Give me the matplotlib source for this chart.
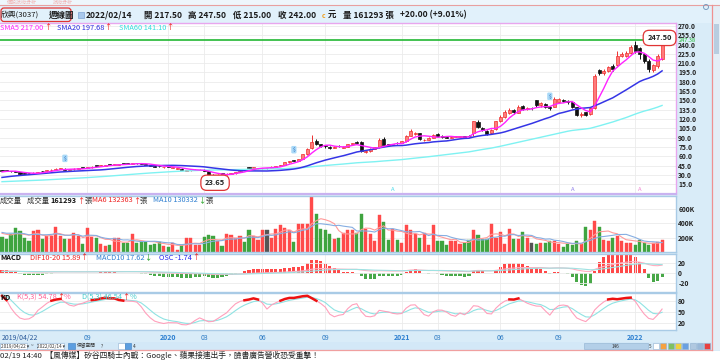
import numpy as np
import pandas as pd
import matplotlib
matplotlib.use("Agg")
import matplotlib.pyplot as plt
from matplotlib.patches import Rectangle, FancyBboxPatch, Circle
from matplotlib.ticker import FormatStrFormatter, FuncFormatter

FAM = ['Noto Sans CJK TC', 'DejaVu Sans']
plt.rcParams['font.family'] = FAM

# weekly closes before 2019/04/22, only used to warm up the moving averages / MACD / KD
warmup_close = [
    16.8, 17.2, 17.0, 16.5, 16.0, 16.4, 15.8, 15.5, 15.9, 16.2,
    16.0, 15.6, 15.2, 15.0, 15.4, 15.8, 16.1, 15.7, 15.3, 14.9,
    14.6, 14.8, 15.2, 15.5, 15.0, 14.4, 13.8, 13.2, 13.6, 14.0,
    14.3, 14.8, 15.2, 14.9, 15.3, 15.8, 16.2, 16.7, 17.1, 17.6,
    18.0, 18.6, 19.2, 19.0, 19.8, 20.6, 21.4, 22.0, 22.8, 23.6,
    24.8, 26.2, 27.5, 28.8, 30.4, 32.0, 33.6, 35.0, 36.2]
warmup_vol_k = [300, 240, 350, 280, 260, 310, 230, 290, 250]

# weekly candles 2019/04/22 .. 2022/02/14
open_ = [
    37.4, 36.8, 36.4, 35.6, 34.4, 32.4, 32.8, 32.4, 33.2, 35.8,
    35.4, 37.0, 38.2, 39.6, 40.0, 38.4, 38.8, 39.6, 41.4, 41.0,
    42.2, 44.6, 44.2, 45.0, 46.4, 46.0, 46.2, 47.8, 48.4, 48.0,
    48.8, 48.4, 47.8, 46.4, 45.0, 44.0, 42.2, 43.4, 41.6, 39.6,
    40.0, 36.6, 37.0, 37.6, 37.6, 38.0, 36.0, 30.0, 27.6, 33.0,
    30.6, 31.6, 32.2, 34.6, 39.4, 41.8, 41.0, 40.6, 40.2, 40.6,
    40.6, 43.4, 44.2, 45.6, 50.0, 53.6, 53.0, 55.0, 63.0, 73.0,
    85.0, 79.0, 77.8, 75.6, 73.0, 77.0, 74.0, 75.0, 79.6, 83.0,
    83.6, 66.8, 68.0, 72.0, 74.2, 88.0, 79.4, 78.4, 81.8, 81.0,
    84.0, 93.0, 96.0, 97.0, 86.0, 86.5, 90.0, 96.0, 93.0, 91.4,
    90.0, 91.0, 91.5, 92.0, 92.6, 97.5, 115.0, 106.0, 101.0, 97.0,
    104.0, 116.0, 124.0, 130.0, 134.0, 130.0, 141.0, 136.0, 137.0, 150.0,
    142.0, 144.0, 139.0, 140.0, 147.0, 151.0, 149.0, 147.0, 139.0, 126.0,
    131.0, 128.0, 137.0, 199.0, 194.0, 198.0, 206.0, 207.0, 222.0, 222.0,
    226.0, 240.0, 234.0, 224.0, 214.0, 199.0, 205.0, 217.5]
high = [
    38.0, 37.2, 36.8, 36.0, 34.6, 32.8, 33.2, 33.8, 34.6, 36.4,
    37.4, 38.6, 40.4, 40.8, 40.4, 39.4, 40.2, 40.8, 41.8, 42.8,
    43.6, 45.0, 45.4, 46.0, 46.8, 47.6, 47.2, 48.2, 48.8, 49.4,
    49.2, 48.8, 48.0, 46.6, 45.2, 44.4, 43.4, 43.8, 42.6, 41.0,
    40.2, 37.6, 38.2, 38.8, 38.6, 38.6, 36.4, 31.0, 31.4, 33.6,
    32.2, 33.0, 35.0, 36.8, 40.0, 42.4, 43.0, 41.6, 41.2, 41.4,
    43.8, 44.8, 46.2, 50.6, 52.8, 54.4, 55.6, 63.6, 73.0, 94.0,
    87.0, 80.4, 78.6, 76.4, 76.0, 78.0, 76.2, 80.4, 82.0, 84.4,
    84.2, 69.4, 72.8, 75.0, 90.0, 91.6, 80.2, 80.4, 82.4, 85.0,
    95.0, 104.0, 99.0, 98.0, 88.4, 91.0, 96.5, 97.0, 93.6, 92.0,
    92.4, 92.6, 93.0, 92.8, 93.4, 117.0, 118.0, 107.0, 102.0, 104.0,
    117.0, 126.0, 134.0, 137.0, 136.0, 142.0, 143.0, 139.0, 139.5, 151.0,
    147.0, 145.0, 140.5, 155.0, 154.0, 153.0, 150.0, 148.0, 140.0, 131.0,
    132.0, 139.0, 192.0, 201.0, 200.0, 206.0, 208.0, 229.0, 228.0, 229.0,
    240.0, 246.0, 236.0, 226.0, 216.0, 209.0, 224.0, 247.5]
low = [
    36.0, 35.6, 35.0, 34.0, 30.2, 30.8, 31.8, 32.0, 32.8, 34.0,
    35.0, 36.6, 38.0, 39.0, 38.0, 37.8, 38.4, 39.2, 40.4, 40.8,
    41.8, 43.4, 43.8, 44.8, 45.4, 45.8, 45.8, 46.8, 47.4, 47.6,
    47.8, 47.2, 46.0, 44.6, 42.8, 43.0, 41.8, 42.4, 41.2, 39.2,
    37.2, 36.0, 36.6, 37.2, 37.0, 35.4, 29.0, 23.65, 26.8, 30.8,
    30.2, 31.2, 32.0, 34.2, 37.8, 40.2, 40.6, 40.0, 39.8, 40.0,
    40.4, 43.0, 44.0, 45.2, 49.4, 52.0, 52.6, 54.8, 62.4, 72.0,
    78.0, 75.6, 74.0, 71.8, 72.6, 75.0, 73.4, 74.6, 79.0, 80.8,
    67.0, 65.8, 67.6, 71.4, 73.8, 77.0, 77.0, 77.6, 80.2, 80.6,
    83.6, 92.0, 94.0, 86.0, 84.0, 85.6, 89.6, 91.6, 89.8, 89.0,
    89.2, 90.2, 90.6, 88.6, 90.8, 92.4, 105.0, 100.5, 94.0, 96.0,
    103.0, 115.0, 122.0, 128.0, 128.0, 129.0, 134.0, 134.5, 135.0, 140.0,
    140.0, 137.5, 134.0, 139.0, 145.0, 147.0, 144.0, 138.0, 125.0, 123.0,
    125.0, 127.0, 136.0, 191.0, 191.0, 196.0, 198.0, 206.0, 220.0, 220.0,
    225.0, 226.0, 217.0, 210.0, 196.0, 195.0, 203.0, 215.0]
close = [
    36.8, 36.2, 35.5, 34.5, 31.0, 31.8, 32.4, 33.2, 34.0, 35.4,
    37.0, 38.2, 39.6, 40.0, 38.4, 38.8, 39.6, 40.2, 41.0, 42.2,
    43.0, 44.2, 45.0, 45.6, 46.0, 47.0, 46.6, 47.4, 48.0, 48.6,
    48.4, 47.8, 46.4, 45.0, 43.2, 43.6, 42.6, 43.0, 42.0, 40.2,
    37.6, 37.0, 37.6, 38.2, 38.0, 36.0, 30.2, 27.6, 30.5, 32.0,
    31.6, 32.2, 34.6, 36.2, 38.8, 41.0, 42.2, 41.0, 40.6, 40.6,
    43.4, 44.2, 45.6, 50.0, 52.0, 53.0, 55.0, 63.0, 72.0, 83.0,
    80.0, 77.2, 76.0, 73.0, 75.2, 76.0, 75.0, 79.6, 81.0, 82.0,
    68.5, 68.0, 72.0, 74.2, 86.0, 78.0, 78.4, 79.2, 81.0, 84.0,
    93.0, 100.0, 97.0, 88.0, 86.5, 90.0, 95.0, 93.0, 91.0, 90.0,
    91.0, 91.5, 92.0, 90.0, 92.0, 116.0, 107.0, 102.0, 96.0, 103.0,
    116.0, 124.0, 132.0, 134.0, 131.0, 140.0, 136.0, 137.0, 137.0, 142.0,
    145.0, 139.0, 137.0, 153.0, 152.0, 149.0, 147.0, 140.0, 126.0, 128.0,
    127.0, 137.0, 190.0, 194.0, 198.0, 204.0, 200.0, 222.0, 225.0, 226.0,
    236.0, 230.0, 224.0, 214.0, 200.0, 207.0, 222.0, 242.0]
# volume in thousands of lots (張)
vol_k = [
    214, 181, 252, 333, 290, 195, 148, 286, 300, 186,
    229, 229, 348, 229, 181, 181, 267, 229, 110, 338,
    214, 195, 110, 86, 100, 195, 195, 119, 124, 252,
    124, 133, 133, 95, 110, 143, 86, 62, 119, 29,
    100, 190, 190, 100, 95, 205, 238, 219, 157, 86,
    252, 243, 190, 229, 143, 300, 229, 167, 300, 310,
    195, 314, 371, 340, 300, 143, 386, 386, 386, 780,
    538, 314, 300, 257, 181, 195, 271, 300, 300, 271,
    530, 326, 250, 152, 514, 420, 170, 326, 162, 124,
    373, 312, 255, 200, 265, 92, 373, 152, 148, 101,
    148, 148, 115, 124, 162, 312, 232, 185, 185, 397,
    200, 280, 115, 326, 185, 185, 280, 200, 124, 115,
    124, 124, 148, 148, 115, 68, 115, 100, 150, 110,
    350, 300, 435, 350, 170, 148, 200, 218, 150, 130,
    126, 92, 160, 120, 92, 125, 135, 161.293]

month_ticks = [(2019, 9, "09"), (2020, 1, "2020"), (2020, 3, "03"), (2020, 6, "06"),
               (2020, 9, "09"), (2021, 1, "2021"), (2021, 3, "03"), (2021, 6, "06"),
               (2021, 9, "09"), (2022, 1, "2022")]
dividend_weeks = [14, 65, 122]
signal_marks = [(87, '#44d8e8'), (127, '#8a7ae8'), (142, '#f080d0')]

# ---------------- indicators ----------------
dates = pd.date_range("2019-04-22", periods=len(close), freq="7D")
n = len(close)
idx = np.arange(n)
nw = len(warmup_close)
o, h, l, c = map(np.array, (open_, high, low, close))

all_c = pd.Series(warmup_close + close)
sma5 = all_c.rolling(5).mean().to_numpy()[nw:]
sma20 = all_c.rolling(20).mean().to_numpy()[nw:]
sma60 = all_c.rolling(60).mean().to_numpy()[nw:]

ema10 = all_c.ewm(span=10, adjust=False).mean()
ema20 = all_c.ewm(span=20, adjust=False).mean()
dif_s = ema10 - ema20
dea_s = dif_s.ewm(span=10, adjust=False).mean()
dif = dif_s.to_numpy()[nw:]
dea = dea_s.to_numpy()[nw:]
osc = dif - dea

all_h = pd.Series(warmup_close + high)
all_l = pd.Series(warmup_close + low)
hh = all_h.rolling(5, min_periods=1).max()
ll = all_l.rolling(5, min_periods=1).min()
rsv = ((all_c - ll) / (hh - ll).replace(0, np.nan) * 100).fillna(50).to_numpy()
kk = dd = 50.0
k_list, d_list = [], []
for r in rsv:
    kk = kk * 2 / 3 + r / 3
    dd = dd * 2 / 3 + kk / 3
    k_list.append(kk)
    d_list.append(dd)
kline = np.array(k_list)[nw:]
dline = np.array(d_list)[nw:]

all_v = pd.Series(warmup_vol_k + vol_k)
vma6 = all_v.rolling(6).mean().to_numpy()[len(warmup_vol_k):]
vma10 = all_v.rolling(10).mean().to_numpy()[len(warmup_vol_k):]

tick_idx, tick_lab = [], []
for yy, mm, lab in month_ticks:
    tick_idx.append(int(np.where((dates.year == yy) & (dates.month == mm))[0][0]))
    tick_lab.append(lab)

# ---------------- figure ----------------
fig = plt.figure(figsize=(7.2, 3.6), dpi=100)
fig.patch.set_facecolor('#d9ecf8')
rend = fig.canvas.get_renderer()

bg = fig.add_axes([0, 0, 1, 1], zorder=-10)
bg.set_xlim(0, 720); bg.set_ylim(360, 0); bg.axis('off')
bg.add_patch(Rectangle((0, 0), 720, 5, fc='#eef6fc', ec='none'))
bg.add_patch(Rectangle((0, 5), 712, 18, fc='#e1f1fb', ec='none'))
bg.plot([0, 720], [5, 5], color='#e8a0a0', lw=0.8)
bg.add_patch(Rectangle((0, 342), 712, 8, fc='#d3e8f7', ec='none'))
bg.add_patch(Rectangle((0, 350.5), 720, 10, fc='white', ec='none'))
bg.plot([0, 712], [350.3, 350.3], color='#f0a0a0', lw=0.9)
bg.plot([712, 712], [5, 350.3], color='#f09090', lw=0.9)
bg.add_patch(Rectangle((713, 5), 7, 345, fc='#e4eef6', ec='none'))
bg.add_patch(Rectangle((714, 24), 5, 30, fc='#b8cde0', ec='none'))

XL = (-0.45, 150.1)
GRID = '#ebebeb'


def panel(y0, y1):
    a = fig.add_axes([0, 1 - y1 / 360, 676 / 720, (y1 - y0) / 360])
    a.set_xlim(*XL)
    a.set_facecolor('white')
    a.tick_params(axis='x', length=0, labelbottom=False)
    a.set_xticks(tick_idx)
    a.grid(True, color=GRID, lw=0.6)
    a.set_axisbelow(True)
    for s in a.spines.values():
        s.set_color('#a9cbe6')
        s.set_linewidth(1.0)
    a.spines['left'].set_visible(False)
    return a


def right_ticks(a):
    a.yaxis.tick_right()
    a.tick_params(axis='y', length=0, pad=1.6, labelsize=4.8, labelcolor='#222',
                  left=False, labelleft=False, right=True, labelright=True)


# ---- price panel ----
ax = panel(23.3, 193.8)
ax.set_ylim(-0.6, 274.3)
ax.set_yticks(np.arange(15, 271, 15))
ax.yaxis.set_major_formatter(FormatStrFormatter('%.1f'))
right_ticks(ax)
ax.spines['top'].set_color('#e8a6ee')
ax.spines['right'].set_color('#e8a6ee')
ax.spines['bottom'].set_color('#c9b2f0')
ax.spines['bottom'].set_linewidth(1.6)

up = c > o
dn = c < o
face = np.where(up, '#ff7b7b', np.where(dn, '#111111', '#555555'))
edge = np.where(up, '#ee3030', np.where(dn, '#111111', '#555555'))
ax.vlines(idx, l, h, colors=edge, lw=0.7, zorder=2)
ax.bar(idx, np.maximum(np.abs(c - o), 0.9), bottom=np.minimum(o, c), width=0.68,
       color=face, edgecolor=edge, linewidth=0.5, zorder=2)
ax.plot(idx, sma60, color='#7ff2f2', lw=1.0, zorder=3)
ax.plot(idx, sma20, color='#3535e6', lw=1.1, zorder=3)
ax.plot(idx, sma5, color='#ff22ff', lw=1.0, zorder=3)
ax.axhline(247.38, color='#22b833', lw=1.2, zorder=3)

imin = int(np.argmin(l))
imax = int(np.argmax(h))
box = dict(boxstyle='round,pad=0.55,rounding_size=0.8', fc='white', ec='#e03434', lw=0.9)
ax.annotate(f"{l[imin]:.2f}", xy=(imin, l[imin]), xytext=(2, -4), textcoords='offset pixels',
            ha='center', va='center', fontsize=5.4, fontweight='bold', color='#222', bbox=box, zorder=6)
ax.annotate(f"{h[imax]:.2f}", xy=(imax, h[imax]), xytext=(-2.5, 2), textcoords='offset pixels',
            ha='center', va='center', fontsize=5.4, fontweight='bold', color='#222', bbox=box, zorder=6)
for wk in dividend_weeks:
    ax.annotate("$", xy=(wk, h[wk]), xytext=(0, 10), textcoords='offset pixels', ha='center',
                va='center', fontsize=3.6, color='#2f6fc0',
                bbox=dict(boxstyle='round,pad=0.25', fc='#a9d9f7', ec='none'), zorder=5)
for wk, col in signal_marks:
    ax.text(wk, 2.0, "A", color=col, fontsize=4.2, ha='center', va='bottom', zorder=5)

# ---- volume panel ----
av = panel(196.0, 251.8)
av.set_ylim(0, 784)
av.set_yticks([200, 400, 600])
av.yaxis.set_major_formatter(FuncFormatter(lambda v, p: f"{int(v)}K"))
right_ticks(av)
vcol = np.where(up, '#ff4a4a', np.where(dn, '#3fa43f', '#555555'))
av.bar(idx, vol_k, width=0.7, color=vcol, edgecolor=vcol, linewidth=0.3, zorder=2)
av.plot(idx, vma6, color='#ff9a9a', lw=0.8, zorder=3)
av.plot(idx, vma10, color='#86aee2', lw=0.8, zorder=3)

# ---- MACD panel ----
am = panel(253.6, 291.6)
am.set_ylim(-38, 40)
hist = am.twinx()
hist.set_xlim(*XL)
hist.set_ylim(-38 / 6.5, 40 / 6.5)
hist.set_yticks([])
hist.tick_params(axis='both', length=0, labelleft=False, labelright=False)
for s in hist.spines.values():
    s.set_visible(False)
hist.set_zorder(am.get_zorder() - 1)
hist.patch.set_visible(True)
hist.patch.set_facecolor('white')
am.patch.set_visible(False)
am.set_yticks([-20, 0, 20])
am.yaxis.set_major_formatter(FuncFormatter(lambda v, p: f"{int(v)}"))
right_ticks(am)
hcol = np.where(osc >= 0, '#ff4848', '#48a848')
hist.bar(idx, osc, width=0.7, color=hcol, linewidth=0)
am.plot(idx, dif, color='#ffaec0', lw=0.8, zorder=3)
am.plot(idx, dea, color='#9fe2e2', lw=0.8, zorder=3)

# ---- KD panel ----
ak = panel(293.4, 330.2)
ak.set_ylim(0, 100)
ak.set_yticks([20, 50, 80])
ak.yaxis.set_major_formatter(FuncFormatter(lambda v, p: f"{int(v)}"))
right_ticks(ak)
ak.plot(idx, dline, color='#8fe3e3', lw=0.8, zorder=3)
ak.plot(idx, kline, color='#ffa0bc', lw=0.8, zorder=3)
ak.plot(idx, np.where(kline > 80, kline, np.nan), color='#ee1111', lw=1.8, zorder=4)
ak.tick_params(axis='x', labelbottom=True, pad=2.6, labelsize=5.0)
ak.set_xticks([0] + tick_idx)
ak.set_xticklabels(["2019/04/22"] + tick_lab)
for lab in ak.get_xticklabels():
    txt = lab.get_text()
    if txt == "2019/04/22":
        lab.set_ha('left')
        lab.set_color('#2a5a9a')
    elif len(txt) == 4:
        lab.set_fontweight('bold')
        lab.set_color('#2c7fd0')
    else:
        lab.set_color('#2f7cc4')
ak.get_xgridlines()[0].set_visible(False)

for a in (ax, av, am, ak):
    for lab in a.get_yticklabels():
        lab.set_fontweight('bold')

# ---------------- texts ----------------
fg = fig.add_axes([0, 0, 1, 1], zorder=20)
fg.set_xlim(0, 720); fg.set_ylim(360, 0); fg.axis('off')


def chain(x, y, parts, size=5.3):
    for s, col, wt in parts:
        t = fg.text(x, y, s, color=col, fontsize=size, fontweight=wt, ha='left', va='center')
        x += t.get_window_extent(renderer=rend).width
    return x


# tabs and header
fg.text(7, 2.8, "個股技術分析", color='#f0b4b4', fontsize=3.6, va='center')
fg.text(53, 2.8, "技術分析", color='#f0b4b4', fontsize=3.6, va='center')
fg.add_patch(Circle((706, 7), 2.5, fc='none', ec='#7a9cc0', lw=0.7))
hd = dict(fontsize=6.1, va='center', ha='left', color='#1a1a1a')
fg.text(0.5, 15, "欣興(3037)", fontsize=5.6, va='center', ha='left', color='#1a1a1a')
fg.text(49, 15, "週線圖", fontweight='bold', **hd)
fg.add_patch(FancyBboxPatch((1, 8), 70, 13.5, boxstyle='round,pad=0,rounding_size=3',
                            fc='none', ec='#e03434', lw=0.9))
fg.add_patch(Rectangle((77.5, 11.5), 6, 6.5, fc='#a8c8ec', ec='#7fa4d4', lw=0.5))
fg.text(86, 15, "2022/02/14", fontweight='bold', **hd)
fg.text(144, 15, "開 217.50", fontweight='bold', **hd)
fg.text(188, 15, "高 247.50", fontweight='bold', **hd)
fg.text(233, 15, "低 215.00", fontweight='bold', **hd)
fg.text(278, 15, "收 242.00", fontweight='bold', **hd)
fg.text(322, 15, "c", fontsize=5.0, va='center', ha='left', color='#f0a020', fontweight='bold')
fg.text(328, 15, "元", fontweight='bold', **hd)
fg.text(343, 15, "量 161293 張", fontweight='bold', **hd)
fg.text(400, 15, "+20.00 (+9.01%)", fontweight='bold', **hd)

# panel legends
RED, GRN = '#ee1111', '#119911'
chain(0.5, 27.5, [("SMA5 217.00", '#ff22ff', 'normal'), ("↑", RED, 'normal')])
chain(57, 27.5, [("SMA20 197.68", '#2a2ae0', 'normal'), ("↑", RED, 'normal')])
chain(119, 27.5, [("SMA60 141.10", '#33dede', 'normal'), ("↑", RED, 'normal')])
fg.text(679, 40.5, "247.38", color='#22b833', fontsize=4.0, va='center', ha='left')

chain(0, 200.5, [("成交量", '#333333', 'normal')])
chain(27, 200.5, [("成交量 ", '#333333', 'normal'), ("161293", '#111111', 'bold'),
                  ("↑", RED, 'normal'), ("張", '#333333', 'normal')])
chain(92, 200.5, [("MA6 132363", '#ee2222', 'normal'), ("↑", RED, 'normal'), ("張", '#333333', 'normal')])
chain(153, 200.5, [("MA10 130332", '#2f7fd0', 'normal'), ("↓", GRN, 'normal'), ("張", '#333333', 'normal')])

chain(0.5, 257.5, [("MACD", '#111111', 'bold')])
chain(30, 257.5, [("DIF10-20 15.89", '#ee2222', 'normal'), ("↑", RED, 'normal')])
chain(96, 257.5, [("MACD10 17.62", '#2f7fd0', 'normal'), ("↓", GRN, 'normal')])
chain(159, 257.5, [("OSC -1.74", '#2222ee', 'normal'), ("↑", RED, 'normal')])

chain(0.5, 297.3, [("KD", '#111111', 'bold')])
chain(17, 297.3, [("K(5,3) 54.78", '#ff5f95', 'normal'), ("↑", RED, 'normal'), ("%", '#ff5f95', 'normal')])
chain(82, 297.3, [("D(5,3) 46.54", '#45cccc', 'normal'), ("↑", RED, 'normal'), ("%", '#45cccc', 'normal')])

# toolbar
tb = dict(fontsize=3.4, va='center', ha='left', color='#333333')
fg.add_patch(Rectangle((0.3, 343.3), 27, 5.6, fc='white', ec='#8fb0d0', lw=0.4))
fg.text(1, 346.1, "2019/04/22 ▾", **tb)
fg.text(30.5, 346.1, "~", **tb)
fg.add_patch(Rectangle((36.5, 343.3), 27, 5.6, fc='white', ec='#8fb0d0', lw=0.4))
fg.text(37.2, 346.1, "2022/02/14 ▾", **tb)
fg.add_patch(Rectangle((67.5, 343.3), 7, 5.6, fc='#5c9ee0', ec='#3c7ec0', lw=0.4))
fg.text(77, 346.1, "保留空間", **tb)
fg.text(101, 346.1, "?", **tb)
fg.add_patch(Rectangle((118, 343.3), 6.5, 5.6, fc='white', ec='#8fb0d0', lw=0.4))
fg.add_patch(Rectangle((124.5, 343.3), 6.5, 5.6, fc='#5c9ee0', ec='#3c7ec0', lw=0.4))
fg.text(132.5, 346.1, "4", **tb)
fg.add_patch(Rectangle((584, 343.0), 64, 6.2, fc='#b3cfe8', ec='#8fb0d0', lw=0.4))
fg.text(616, 346.1, "146", fontsize=3.4, va='center', ha='center', color='#333333')
for k, col in enumerate(['#ffffff', '#f6a040', '#7fc060', '#f0d040', '#6aa0e0', '#b0c8e0', '#9ab8d8', '#e84040']):
    fg.add_patch(Rectangle((653 + k * 7.3, 343.3), 6, 5.6, fc=col, ec='#8fb0d0', lw=0.4))
fg.text(648.5, 346.1, "5", **tb)

# news line
fg.text(0.5, 355.6, "02/19 14:40  【風傳媒】矽谷四騎士內戰：Google、蘋果接連出手，臉書廣告營收恐受重擊！",
        fontsize=5.6, va='center', ha='left', color='#222222')

fig.savefig("out.png", dpi=100, facecolor=fig.get_facecolor())
